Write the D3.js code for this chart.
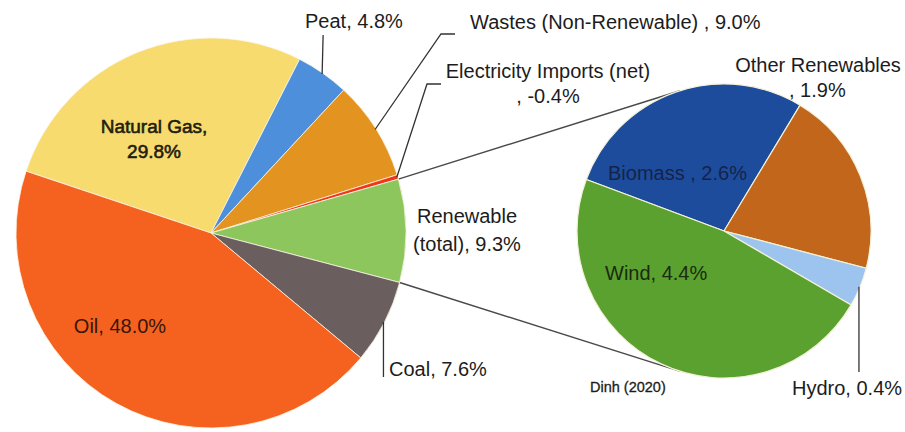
<!DOCTYPE html>
<html>
<head>
<meta charset="utf-8">
<script src="https://cdn.jsdelivr.net/npm/d3@7"></script>
<style>
  html, body { margin: 0; padding: 0; background: #fff; }
  svg { display: block; }
  text { font-family: "Liberation Sans", Arial, sans-serif; fill: #1c1c1c; }
</style>
</head>
<body>
<svg id="chart" width="905" height="432"></svg>
<script>
// ---- Data ----
const mainCategories = ["Natural Gas", "Peat", "Wastes (Non-Renewable)", "Electricity Imports (net)", "Renewable (total)", "Coal", "Oil"];
const mainValues = [29.8, 4.8, 9.0, -0.4, 9.3, 7.6, 48.0];
const mainColors = ["#F8DB6E", "#4D8FDB", "#E3931F", "#F2361A", "#8DC65C", "#6A5E5F", "#F5621F"];

const renewCategories = ["Biomass", "Other Renewables", "Hydro", "Wind"];
const renewValues = [2.6, 1.9, 0.4, 4.4];
const renewColors = ["#1E4C9C", "#C2661C", "#9DC4EE", "#5AA12F"];

const sourceNote = "Dinh (2020)";

// ---- Layout ----
const svg = d3.select("#chart");
const deg = Math.PI / 180;
const M = { cx: 211, cy: 233, r: 195, start: -71.5 };
const S = { cx: 724, cy: 231, r: 147, start: -69.5 };

const mainData = mainCategories.map((c, i) => ({ cat: c, value: mainValues[i], color: mainColors[i] }));
const renewData = renewCategories.map((c, i) => ({ cat: c, value: renewValues[i], color: renewColors[i] }));

const pieMain = d3.pie().sort(null).value(d => Math.abs(d.value))
  .startAngle(M.start * deg).endAngle(M.start * deg + 2 * Math.PI);
const pieRenew = d3.pie().sort(null).value(d => d.value)
  .startAngle(S.start * deg).endAngle(S.start * deg + 2 * Math.PI);

const arcsMain = pieMain(mainData);
const arcsRenew = pieRenew(renewData);

const pt = (P, a, rr) => [P.cx + rr * Math.sin(a), P.cy - rr * Math.cos(a)];
const mid = d => (d.startAngle + d.endAngle) / 2;
const byCat = (arcs, c) => arcs.find(d => d.data.cat === c);

// connector lines (tangent from main pie to renewables pie)
const renArc = byCat(arcsMain, "Renewable (total)");
function tangent(P, sign) {
  const dx = P[0] - S.cx, dy = P[1] - S.cy;
  const d = Math.hypot(dx, dy);
  const th = Math.atan2(dy, dx);
  const off = Math.acos(S.r / d);
  const t = th + sign * off;
  return [S.cx + S.r * Math.cos(t), S.cy + S.r * Math.sin(t)];
}
const pTop = pt(M, renArc.startAngle, M.r);
const pBot = pt(M, renArc.endAngle, M.r);
const line = d3.line();
const lineColor = "#4a4a4a";

svg.append("path").attr("d", line([pTop, tangent(pTop, 1)]))
  .attr("stroke", lineColor).attr("stroke-width", 1.5).attr("fill", "none");
svg.append("path").attr("d", line([pBot, tangent(pBot, -1)]))
  .attr("stroke", lineColor).attr("stroke-width", 1.5).attr("fill", "none");

// main pie
const arcM = d3.arc().innerRadius(0).outerRadius(M.r);
svg.append("g").attr("transform", `translate(${M.cx},${M.cy})`)
  .selectAll("path").data(arcsMain).join("path")
  .attr("d", arcM).attr("fill", d => d.data.color)
  .attr("stroke", "#fbf6e6").attr("stroke-width", 0.8);

// renewables pie
const arcS = d3.arc().innerRadius(0).outerRadius(S.r);
svg.append("g").attr("transform", `translate(${S.cx},${S.cy})`)
  .selectAll("path").data(arcsRenew).join("path")
  .attr("d", arcS).attr("fill", d => d.data.color)
  .attr("stroke", "#f3f1d8").attr("stroke-width", 1.2);

// leader lines
const leaders = [
  { arcs: arcsMain, P: M, cat: "Peat", pts: a => [a, [a[0] + 1, 35]] },
  { arcs: arcsMain, P: M, cat: "Wastes (Non-Renewable)", pts: a => [a, [441, 34], [455, 34]] },
  { arcs: arcsMain, P: M, cat: "Electricity Imports (net)", pts: a => [a, [427, 84], [441, 84]] },
  { arcs: arcsMain, P: M, cat: "Coal", pts: a => [a, [a[0], 377]] },
  { arcs: arcsRenew, P: S, cat: "Hydro", pts: a => [a, [a[0], 372]] }
];
leaders.forEach(L => {
  const d = byCat(L.arcs, L.cat);
  const a = pt(L.P, mid(d), L.P.r - 1);
  svg.append("path").attr("d", line(L.pts(a)))
    .attr("stroke", "#333").attr("stroke-width", 1.3).attr("fill", "none");
});

// labels
const fmt = v => v.toFixed(1) + "%";
const mv = c => mainValues[mainCategories.indexOf(c)];
const rv = c => renewValues[renewCategories.indexOf(c)];

const labels = [
  { lines: ["Natural Gas,", fmt(mv("Natural Gas"))], x: 154, y: [133, 158], size: 19, anchor: "middle", fill: "#231d10", stroke: 0.6 },
  { lines: ["Oil, " + fmt(mv("Oil"))], x: 120, y: [333], size: 20, anchor: "middle", fill: "#3a1608" },
  { lines: ["Peat, " + fmt(mv("Peat"))], x: 305, y: [28], size: 20, anchor: "start" },
  { lines: ["Wastes (Non-Renewable) , " + fmt(mv("Wastes (Non-Renewable)"))], x: 470, y: [29], size: 20, anchor: "start" },
  { lines: ["Electricity Imports (net)", ", " + fmt(mv("Electricity Imports (net)"))], x: 548, y: [78, 103], size: 20, anchor: "middle" },
  { lines: ["Renewable", "(total), " + fmt(mv("Renewable (total)"))], x: 467, y: [223, 251], size: 20, anchor: "middle" },
  { lines: ["Coal, " + fmt(mv("Coal"))], x: 389, y: [376], size: 20, anchor: "start" },
  { lines: ["Other Renewables"], x: 818, y: [72], size: 20, anchor: "middle" },
  { lines: [", " + fmt(rv("Other Renewables"))], x: 789, y: [97], size: 20, anchor: "start" },
  { lines: ["Biomass , " + fmt(rv("Biomass"))], x: 608, y: [180], size: 20, anchor: "start", fill: "#15234a" },
  { lines: ["Wind, " + fmt(rv("Wind"))], x: 605, y: [280], size: 20, anchor: "start", fill: "#1b2a10" },
  { lines: ["Hydro, " + fmt(rv("Hydro"))], x: 792, y: [395], size: 20, anchor: "start" },
  { lines: [sourceNote], x: 590, y: [392], size: 14.5, anchor: "start", stroke: 0.3 }
];
labels.forEach(L => {
  L.lines.forEach((t, i) => {
    const fill = L.fill || "#1c1c1c";
    svg.append("text").attr("x", L.x).attr("y", L.y[i])
      .attr("text-anchor", L.anchor).attr("font-size", L.size)
      .style("fill", fill)
      .style("stroke", L.stroke ? fill : "none")
      .style("stroke-width", L.stroke || 0)
      .text(t);
  });
});
</script>
</body>
</html>
